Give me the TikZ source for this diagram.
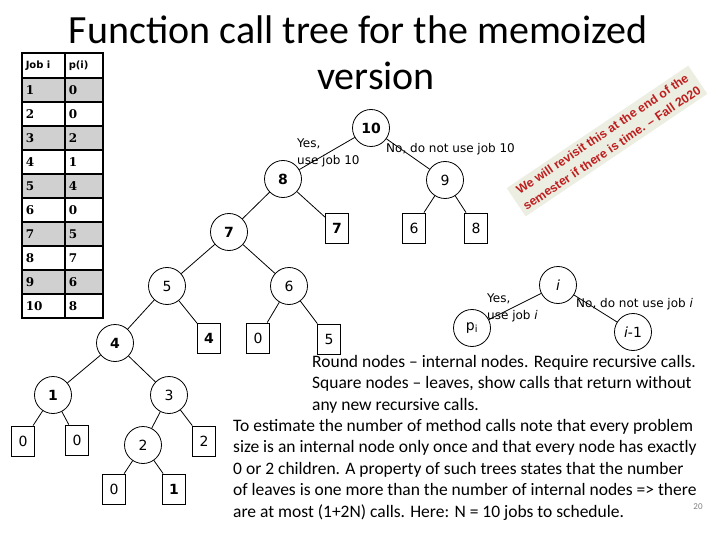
\documentclass[tikz,border=0pt]{standalone}
\usepackage{fontspec}
\setmainfont{Carlito}
\newfontfamily\nodefont{DejaVu Sans}
\newfontfamily\cellfont{DejaVu Serif}
\newfontfamily\notefont{Liberation Sans}
\usepackage{tikz}

\definecolor{rowgray}{RGB}{208,208,208}
\definecolor{notered}{RGB}{190,30,30}
\definecolor{notebg}{RGB}{236,238,226}

\begin{document}
\begin{tikzpicture}[x=1pt, y=-1pt,
    inner/.style={circle, draw, line width=0.8pt, minimum size=37pt, inner sep=0pt, font=\nodefont\fontsize{14}{14}\selectfont},
    leaf/.style={rectangle, draw, line width=0.8pt, minimum width=23pt, minimum height=30pt, inner sep=0pt, font=\nodefont\fontsize{14}{14}\selectfont},
    edgelabel/.style={anchor=base west, align=left, inner sep=0pt, font=\nodefont\fontsize{12}{17}\selectfont},
    jobcell/.style={draw, line width=1.5pt, minimum height=24pt, text width=35pt, inner sep=4pt, align=left, anchor=west, font=\cellfont\bfseries\fontsize{12}{12}\selectfont},
    pcell/.style={jobcell, text width=30pt},
    note/.style={anchor=base west, align=left, inner sep=0pt, font=\fontsize{17.5}{21.6}\selectfont}]
    \useasboundingbox (0,0) rectangle (720,540);

    \node[anchor=base, font=\fontsize{40}{40}\selectfont] (title1) at (358,44) {Function call tree for the memoized};
    \node[anchor=base, font=\fontsize{40}{40}\selectfont] (title2) at (376,90) {version};

    % table of p(i)
    \node[jobcell, minimum height=25pt, font=\nodefont\bfseries\fontsize{10}{10}\selectfont] (jobhead) at (21,65.5) {Job i};
    \node[pcell, minimum height=25pt, font=\nodefont\bfseries\fontsize{10}{10}\selectfont] (phead) at (64,65.5) {p(i)};
    \foreach \j/\p [count=\k] in {1/0,2/0,3/2,4/1,5/4,6/0,7/5,8/7,9/6,10/8} {
        \ifodd\k \def\rowfill{rowgray}\else \def\rowfill{white}\fi
        \node[jobcell, fill=\rowfill] (job\j) at (21,{66+24*\k}) {\j};
        \node[pcell, fill=\rowfill] (p\j) at (64,{66+24*\k}) {\p};
    }

    % call tree
    \node[inner] (c10) at (371,128) {\textbf{10}};
    \node[inner] (c8) at (283,179) {\textbf{8}};
    \node[inner] (c9) at (445,180) {9};
    \node[inner] (c7) at (229,232) {\textbf{7}};
    \node[leaf] (s7) at (337,228) {\textbf{7}};
    \node[leaf] (s6) at (414,228) {6};
    \node[leaf] (s8) at (476,228) {8};
    \node[inner] (c5) at (167,286) {5};
    \node[inner] (c6) at (289,286) {6};
    \node[leaf] (s4) at (209,338) {\textbf{4}};
    \node[leaf] (s0a) at (258,338) {0};
    \node[leaf] (s5) at (329,339) {5};
    \node[inner] (c4) at (115,343) {\textbf{4}};
    \node[inner] (c1) at (53,395) {\textbf{1}};
    \node[inner] (c3) at (169,395) {3};
    \node[leaf] (s0b) at (23,441) {0};
    \node[leaf] (s0c) at (77,440) {0};
    \node[inner] (c2) at (143,445) {2};
    \node[leaf] (s2) at (204,441) {2};
    \node[leaf] (s0d) at (114,489) {0};
    \node[leaf] (s1) at (174,489) {\textbf{1}};
    \foreach \a/\b in {c10/c8, c10/c9, c8/c7, c8/s7, c9/s6, c9/s8, c7/c5, c7/c6, c5/c4, c5/s4,
        c6/s0a, c6/s5, c4/c1, c4/c3, c1/s0b, c1/s0c, c3/c2, c3/s2, c2/s0d, c2/s1}
        \draw[line width=0.8pt] (\a) -- (\b);
    \node[edgelabel] (yes10) at (297,165) {Yes,\\use job 10};
    \node[edgelabel] (no10) at (386,153) {No, do not use job 10};

    % general step
    \node[inner] (ci) at (558,285) {\itshape i};
    \node[inner] (cpi) at (472,328) {p\textsubscript{i}};
    \node[inner] (cim) at (633,332) {\itshape i\upshape -1};
    \draw[line width=0.8pt] (ci) -- (cpi);
    \draw[line width=0.8pt] (ci) -- (cim);
    \node[edgelabel] (yesi) at (487,319) {Yes,\\use job \textit{i}};
    \node[edgelabel] (noi) at (576,307) {No, do not use job \textit{i}};

    \node[rotate=34, fill=notebg, text=notered, align=center, inner sep=4pt,
        font=\notefont\bfseries\fontsize{12.3}{17}\selectfont] (revisit) at (607,141)
        {We will revisit this at the end of the\\semester if there is time. – Fall 2020};

    \node[note] (roundnote) at (312,410.2) {Round nodes – internal nodes. Require recursive calls.\\Square nodes – leaves, show calls that return without\\any new recursive calls.};
    \node[note] (estnote) at (233,517.4) {To estimate the number of method calls note that every problem\\size is an internal node only once and that every node has exactly\\0 or 2 children.  A property of such trees states that the number\\of leaves is one more than the number of internal nodes => there\\are at most (1+2N) calls.  Here: N = 10 jobs to schedule.};
    \node[text=gray, font=\fontsize{9}{9}\selectfont] (pagenum) at (698,507) {20};
\end{tikzpicture}
\end{document}
